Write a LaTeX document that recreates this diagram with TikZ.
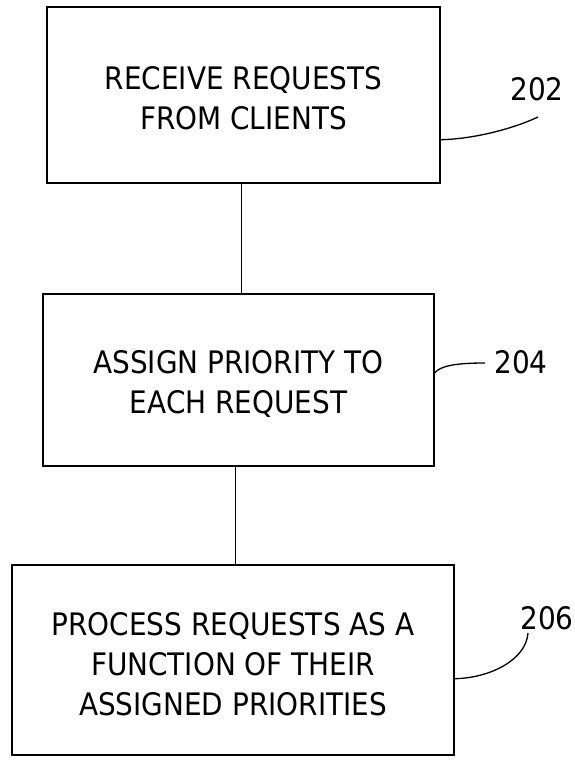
\documentclass[tikz,border=0pt]{standalone}
\usepackage{fontspec}
\setmainfont{DejaVu Sans}[FakeStretch=0.9]
\usetikzlibrary{calc}
\newcommand{\toppad}[1]{\rule{0pt}{#1}}
\begin{document}
\begin{tikzpicture}[x=1pt,y=-1pt,
  stepbox/.style={draw,line width=1.4pt,align=center,inner sep=0pt,
    font=\fontsize{31}{40}\selectfont},
  reflabel/.style={inner sep=0pt,font=\fontsize{31}{36}\selectfont},
  link/.style={line width=1.3pt},
  leader/.style={line width=1.3pt}]
\useasboundingbox (0,0) rectangle (574,760);
\node[stepbox,minimum width=393pt,minimum height=176pt] (b1) at (243.5,95)
  {\toppad{29pt}RECEIVE REQUESTS\\FROM CLIENTS};
\node[stepbox,minimum width=391pt,minimum height=172pt] (b2) at (238.5,380)
  {\toppad{30pt}ASSIGN PRIORITY TO\\EACH REQUEST};
\node[stepbox,minimum width=442pt,minimum height=190pt] (b3) at (233,660)
  {\toppad{31pt}PROCESS REQUESTS AS A\\FUNCTION OF THEIR\\ASSIGNED PRIORITIES};
\coordinate (t1) at ($(b1.south)+(-2,0)$);
\coordinate (t2) at ($(b2.south)+(-3,0)$);
\draw[link] (t1) -- (t1 |- b2.north);
\draw[link] (t2) -- (t2 |- b3.north);
\node[reflabel] (l202) at (537,89) {202};
\node[reflabel] (l204) at (521,362) {204};
\node[reflabel] (l206) at (547,618) {206};
\coordinate (s202) at ($(b1.south east)+(0,-44)$);
\coordinate (s204) at ($(b2.east)+(0,-7)$);
\coordinate (s206) at ($(b3.south east)+(0,-77)$);
\coordinate (e202) at (538,117);
\coordinate (e204) at (485,363);
\coordinate (e206) at (528,633);
\draw[leader] (s202) .. controls (475,139) and (515,128) .. (e202);
\draw[leader] (s204) .. controls (440,366) and (455,363) .. (e204);
\draw[leader] (s206) .. controls (490,678) and (526,660) .. (e206);
\end{tikzpicture}
\end{document}
